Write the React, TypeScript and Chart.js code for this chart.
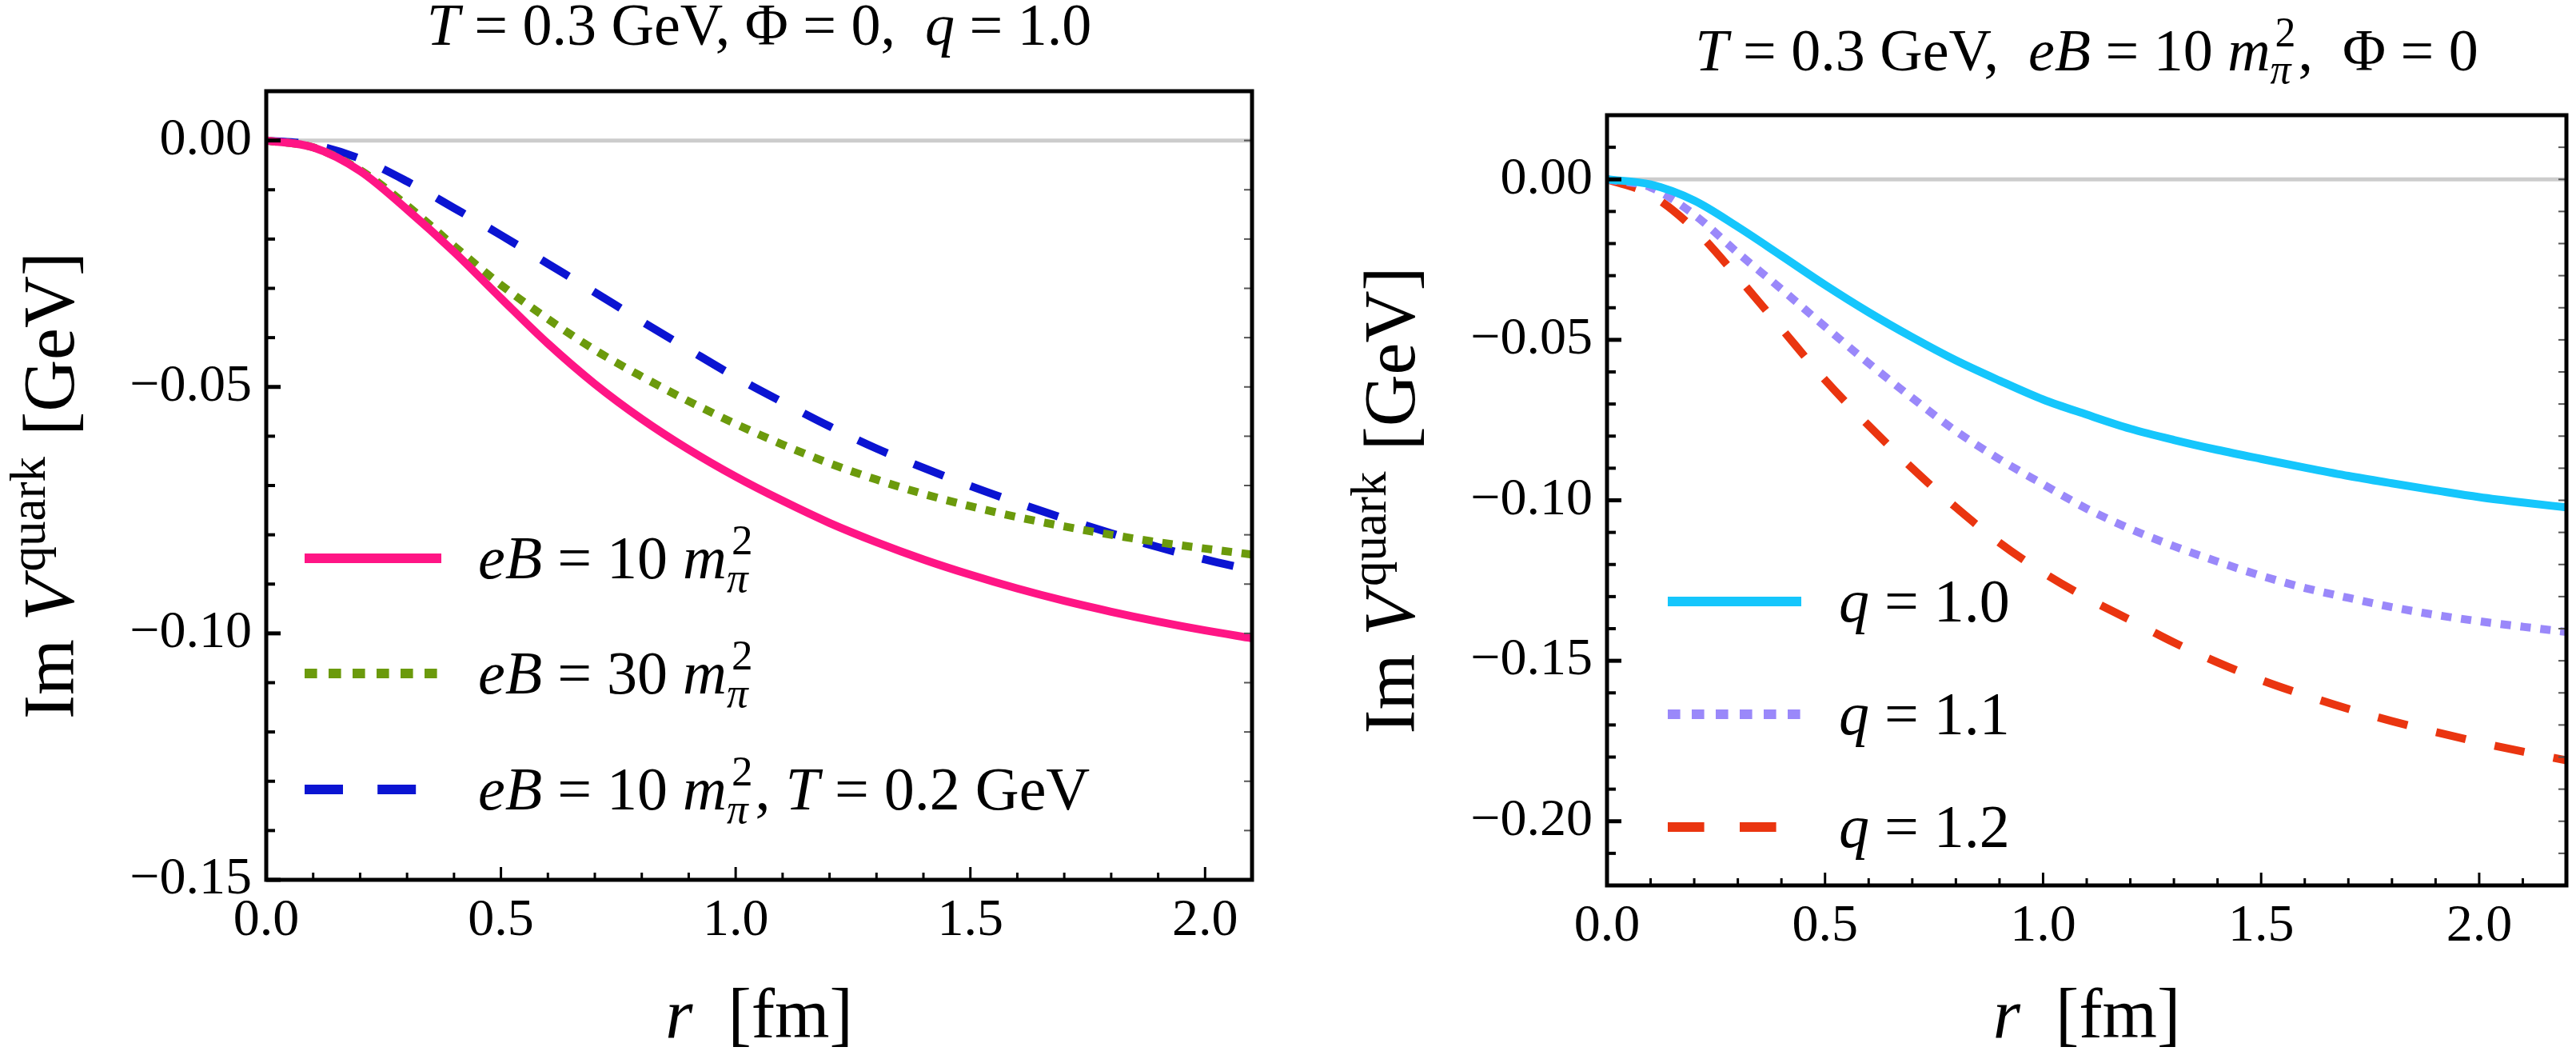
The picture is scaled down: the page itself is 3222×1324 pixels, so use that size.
import React, { useEffect, useRef } from "react";
import { Chart, registerables } from "chart.js";

Chart.register(...registerables);

const SERIF = '"Liberation Serif", "Times New Roman", serif';
const H = 1324;

// ---- data ----
const rLeft = [0, 0.1, 0.2, 0.3, 0.4, 0.5, 0.6, 0.7, 0.8, 0.9, 1.0, 1.1, 1.2, 1.3, 1.4, 1.5, 1.6, 1.7, 1.8, 1.9, 2.0, 2.1];
const imV_eB10 = [0, -0.0014, -0.0062, -0.014, -0.0226, -0.032, -0.0412, -0.0494, -0.0565, -0.0627, -0.0682, -0.0731, -0.0776, -0.0815, -0.085, -0.0881, -0.0909, -0.0934, -0.0956, -0.0976, -0.0994, -0.101];
const imV_eB30 = [0, -0.0014, -0.006, -0.0132, -0.0214, -0.0293, -0.0362, -0.0425, -0.0479, -0.0529, -0.0575, -0.0617, -0.0655, -0.0688, -0.0717, -0.0742, -0.0764, -0.0783, -0.08, -0.0815, -0.0828, -0.084];
const imV_eB10_T02 = [0, -0.0009, -0.0037, -0.0083, -0.0137, -0.0192, -0.025, -0.0308, -0.0367, -0.0424, -0.048, -0.0531, -0.058, -0.0625, -0.0664, -0.0701, -0.0735, -0.0767, -0.0797, -0.0825, -0.085, -0.0872];

const rRight = [0, 0.1, 0.2, 0.3, 0.4, 0.5, 0.6, 0.7, 0.8, 0.9, 1.0, 1.1, 1.2, 1.3, 1.4, 1.5, 1.6, 1.7, 1.8, 1.9, 2.0, 2.1, 2.2];
const imV_q10 = [0, -0.0016, -0.0066, -0.0148, -0.0238, -0.0329, -0.0414, -0.0492, -0.0564, -0.0627, -0.0686, -0.0733, -0.0777, -0.0812, -0.0843, -0.0871, -0.0898, -0.0924, -0.0947, -0.0969, -0.099, -0.1007, -0.1022];
const imV_q11 = [0, -0.0025, -0.011, -0.0229, -0.0342, -0.0459, -0.0573, -0.0681, -0.0784, -0.0872, -0.095, -0.1026, -0.1089, -0.1143, -0.1191, -0.1235, -0.1273, -0.1304, -0.1333, -0.1357, -0.1377, -0.1394, -0.141];
const imV_q12 = [0, -0.0048, -0.0155, -0.0305, -0.0465, -0.0625, -0.0767, -0.09, -0.1022, -0.1132, -0.1225, -0.1304, -0.1373, -0.1443, -0.1505, -0.156, -0.1607, -0.165, -0.1688, -0.1722, -0.1754, -0.1783, -0.181];

const xMajor = [0, 0.5, 1, 1.5, 2];
const xLabels = ["0.0", "0.5", "1.0", "1.5", "2.0"];
const leftYMajor = [0, -0.05, -0.1, -0.15];
const leftYLabels = ["0.00", "\u22120.05", "\u22120.10", "\u22120.15"];
const rightYMajor = [0, -0.05, -0.1, -0.15, -0.2];
const rightYLabels = ["0.00", "\u22120.05", "\u22120.10", "\u22120.15", "\u22120.20"];

// ---- rich text (italics, sub/superscripts) ----
type Run = { t: string; it?: boolean; up?: string; dn?: string; dnIt?: boolean };

const mPi2: Run = { t: "m", it: true, up: "2", dn: "\u03c0", dnIt: true };

const leftTitle: Run[] = [{ t: "T", it: true }, { t: " = 0.3 GeV, \u03a6 = 0,  " }, { t: "q", it: true }, { t: " = 1.0" }];
const rightTitle: Run[] = [{ t: "T", it: true }, { t: " = 0.3 GeV,  " }, { t: "eB", it: true }, { t: " = 10 " }, mPi2, { t: ",  \u03a6 = 0" }];
const yTitle: Run[] = [{ t: "Im " }, { t: "V", it: true, up: "quark" }, { t: " [GeV]" }];
const xTitle: Run[] = [{ t: "r", it: true }, { t: "  [fm]" }];

const leftLegend: Run[][] = [
  [{ t: "eB", it: true }, { t: " = 10 " }, mPi2],
  [{ t: "eB", it: true }, { t: " = 30 " }, mPi2],
  [{ t: "eB", it: true }, { t: " = 10 " }, mPi2, { t: ", " }, { t: "T", it: true }, { t: " = 0.2 GeV" }],
];
const rightLegend: Run[][] = [
  [{ t: "q", it: true }, { t: " = 1.0" }],
  [{ t: "q", it: true }, { t: " = 1.1" }],
  [{ t: "q", it: true }, { t: " = 1.2" }],
];

const fontOf = (size: number, it?: boolean) => `${it ? "italic " : ""}${size}px ${SERIF}`;

function runWidth(ctx: CanvasRenderingContext2D, r: Run, size: number) {
  ctx.font = fontOf(size, r.it);
  let w = ctx.measureText(r.t).width;
  if (r.up || r.dn) {
    const s = size * 0.7;
    ctx.font = fontOf(s, false);
    const wu = r.up ? ctx.measureText(r.up).width + (r.it ? size * 0.08 : 0) : 0;
    ctx.font = fontOf(s, r.dnIt);
    const wd = r.dn ? ctx.measureText(r.dn).width : 0;
    w += Math.max(wu, wd) + size * 0.04;
  }
  return w;
}

function drawRuns(ctx: CanvasRenderingContext2D, runs: Run[], x: number, y: number, size: number, align: "left" | "center") {
  const total = runs.reduce((a, r) => a + runWidth(ctx, r, size), 0);
  let cx = align === "center" ? x - total / 2 : x;
  ctx.textAlign = "left";
  ctx.textBaseline = "alphabetic";
  ctx.fillStyle = "#000";
  for (const r of runs) {
    ctx.font = fontOf(size, r.it);
    ctx.fillText(r.t, cx, y);
    const w0 = ctx.measureText(r.t).width;
    const s = size * 0.7;
    if (r.up) {
      ctx.font = fontOf(s, false);
      ctx.fillText(r.up, cx + w0 + (r.it ? size * 0.08 : 0), y - size * 0.4);
    }
    if (r.dn) {
      ctx.font = fontOf(s, r.dnIt);
      ctx.fillText(r.dn, cx + w0, y + size * 0.22);
    }
    cx += runWidth(ctx, r, size);
  }
}

const near = (v: number, list: number[]) => list.findIndex((m) => Math.abs(m - v) < 1e-6);

interface Series {
  label: string;
  values: number[];
  color: string;
  dash: number[];
}

interface PanelProps {
  left: number;
  width: number;
  area: { left: number; top: number; right: number; bottom: number };
  xMax: number;
  yMin: number;
  yMax: number;
  rs: number[];
  series: Series[];
  yMajor: number[];
  yLabels: string[];
  title: Run[];
  titleBaseline: number;
  legend: Run[][];
  legendPos: { x0: number; x1: number; tx: number; ys: number[] };
}

const Panel: React.FC<PanelProps> = (p) => {
  const chartRef = useRef<HTMLCanvasElement>(null);
  const chartInstance = useRef<Chart | null>(null);

  useEffect(() => {
    if (!chartRef.current) return;
    const ctx = chartRef.current.getContext("2d");
    if (!ctx) return;

    const decor = {
      id: "decor",
      beforeDatasetsDraw(chart: Chart) {
        const c = chart.ctx;
        const { left, right } = chart.chartArea;
        const y0 = chart.scales.y.getPixelForValue(0);
        c.save();
        c.strokeStyle = "#cccccc";
        c.lineWidth = 5;
        c.beginPath();
        c.moveTo(left, y0);
        c.lineTo(right, y0);
        c.stroke();
        c.restore();
      },
      afterDraw(chart: Chart) {
        const c = chart.ctx;
        const { left, right, top, bottom } = chart.chartArea;
        const xs = chart.scales.x;
        const ys = chart.scales.y;
        c.save();
        c.setLineDash([]);
        // inward tick marks
        for (const tk of ys.ticks) {
          const py = ys.getPixelForValue(tk.value);
          const major = near(tk.value, p.yMajor) >= 0;
          c.strokeStyle = "#000";
          c.lineWidth = major ? 5 : 4;
          c.beginPath();
          c.moveTo(left, py);
          c.lineTo(left + (major ? 18 : 11), py);
          c.stroke();
          c.strokeStyle = "#555";
          c.lineWidth = 2;
          c.beginPath();
          c.moveTo(right, py);
          c.lineTo(right - 10, py);
          c.stroke();
        }
        for (const tk of xs.ticks) {
          const px = xs.getPixelForValue(tk.value);
          const major = near(tk.value, xMajor) >= 0;
          c.strokeStyle = "#000";
          c.lineWidth = 3;
          c.beginPath();
          c.moveTo(px, bottom);
          c.lineTo(px, bottom - (major ? 16 : 9));
          c.stroke();
        }
        // frame
        c.strokeStyle = "#000";
        c.lineWidth = 5;
        c.strokeRect(left, top, right - left, bottom - top);

        // titles
        drawRuns(c, p.title, (left + right) / 2, p.titleBaseline, 74, "center");
        drawRuns(c, xTitle, (left + right) / 2, 1297, 88, "center");
        c.save();
        c.translate(left - 241, (top + bottom) / 2);
        c.rotate(-Math.PI / 2);
        drawRuns(c, yTitle, 0, 0, 90, "center");
        c.restore();

        // legend
        const lp = p.legendPos;
        chart.data.datasets.forEach((ds: any, i: number) => {
          const y = lp.ys[i];
          c.strokeStyle = ds.borderColor;
          c.lineWidth = 12;
          c.lineCap = "butt";
          c.setLineDash((ds.borderDash || []).map((d: number) => d * 1.2));
          c.beginPath();
          c.moveTo(lp.x0, y);
          c.lineTo(lp.x1, y);
          c.stroke();
          c.setLineDash([]);
          drawRuns(c, p.legend[i], lp.tx, y + 25, 76, "left");
        });
        c.restore();
      },
    };

    chartInstance.current = new Chart(ctx, {
      type: "line",
      data: {
        datasets: p.series.map((s) => ({
          label: s.label,
          data: p.rs.map((r, i) => ({ x: r, y: s.values[i] })),
          borderColor: s.color,
          backgroundColor: s.color,
          borderWidth: 10,
          borderDash: s.dash,
          borderCapStyle: "butt",
          pointRadius: 0,
          fill: false,
          cubicInterpolationMode: "monotone",
        })),
      },
      options: {
        animation: false,
        responsive: true,
        maintainAspectRatio: false,
        events: [],
        layout: { padding: { left: 0, top: p.area.top, right: p.width - p.area.right, bottom: 0 } },
        plugins: {
          legend: { display: false },
          tooltip: { enabled: false },
          title: { display: false },
        },
        scales: {
          x: {
            type: "linear",
            min: 0,
            max: p.xMax,
            grid: { display: false, drawTicks: false },
            border: { display: false },
            ticks: {
              stepSize: 0.1,
              autoSkip: false,
              maxRotation: 0,
              padding: 12,
              color: "#000",
              font: { family: SERIF, size: 66 },
              callback: (v: any) => {
                const k = near(Number(v), xMajor);
                return k >= 0 ? xLabels[k] : "";
              },
            },
            afterFit: (s: any) => {
              s.height = H - p.area.bottom;
            },
          },
          y: {
            type: "linear",
            min: p.yMin,
            max: p.yMax,
            grid: { display: false, drawTicks: false },
            border: { display: false },
            ticks: {
              stepSize: 0.01,
              autoSkip: false,
              maxTicksLimit: 100,
              padding: 18,
              color: "#000",
              font: { family: SERIF, size: 66 },
              callback: (v: any) => {
                const k = near(Number(v), p.yMajor);
                return k >= 0 ? p.yLabels[k] : "";
              },
            },
            afterFit: (s: any) => {
              s.width = p.area.left;
            },
          },
        },
      },
      plugins: [decor],
    } as any);

    return () => {
      if (chartInstance.current) {
        chartInstance.current.destroy();
        chartInstance.current = null;
      }
    };
    // eslint-disable-next-line react-hooks/exhaustive-deps
  }, []);

  return (
    <div style={{ position: "absolute", left: p.left, top: 0, width: p.width, height: H }}>
      <canvas ref={chartRef}></canvas>
    </div>
  );
};

const App: React.FC = () => {
  return (
    <div style={{ position: "absolute", left: 0, top: 0, width: 3222, height: H, background: "#fff", overflow: "hidden" }}>
      <Panel
        left={0}
        width={1610}
        area={{ left: 333, top: 114, right: 1566, bottom: 1100 }}
        xMax={2.1}
        yMin={-0.15}
        yMax={0.01}
        rs={rLeft}
        series={[
          { label: "eB = 10 m_pi^2", values: imV_eB10, color: "#ff1585", dash: [] },
          { label: "eB = 30 m_pi^2", values: imV_eB30, color: "#6b9a0c", dash: [13, 12] },
          { label: "eB = 10 m_pi^2, T = 0.2 GeV", values: imV_eB10_T02, color: "#0b14d2", dash: [40, 36] },
        ]}
        yMajor={leftYMajor}
        yLabels={leftYLabels}
        title={leftTitle}
        titleBaseline={56}
        legend={leftLegend}
        legendPos={{ x0: 381, x1: 552, tx: 598, ys: [698, 842, 987] }}
      />
      <Panel
        left={1610}
        width={1612}
        area={{ left: 400, top: 144, right: 1600, bottom: 1107 }}
        xMax={2.2}
        yMin={-0.22}
        yMax={0.02}
        rs={rRight}
        series={[
          { label: "q = 1.0", values: imV_q10, color: "#15c6fc", dash: [] },
          { label: "q = 1.1", values: imV_q11, color: "#9a88fa", dash: [13, 12] },
          { label: "q = 1.2", values: imV_q12, color: "#ea3510", dash: [38, 37] },
        ]}
        yMajor={rightYMajor}
        yLabels={rightYLabels}
        title={rightTitle}
        titleBaseline={88}
        legend={rightLegend}
        legendPos={{ x0: 476, x1: 643, tx: 690, ys: [752, 893, 1034] }}
      />
    </div>
  );
};

export default App;
